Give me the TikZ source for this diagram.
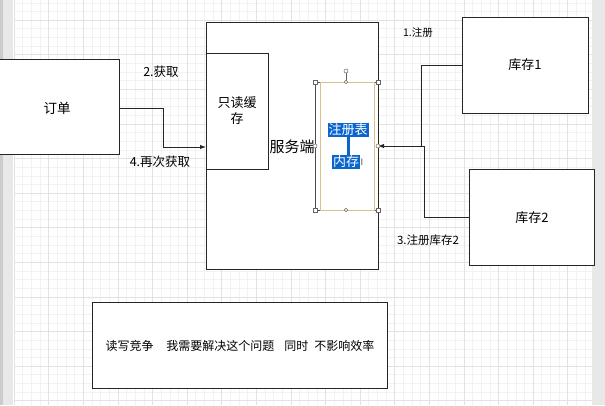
\documentclass[tikz,border=0pt]{standalone}
\usepackage{fontspec}
\setmainfont{Noto Sans CJK SC}
\usetikzlibrary{arrows.meta}
\definecolor{minorgrid}{HTML}{F2F2F2}
\definecolor{majorgrid}{HTML}{E2E2E2}
\definecolor{strip}{HTML}{E8E8E8}
\definecolor{selblue}{HTML}{0A66CC}
\definecolor{selgold}{HTML}{D8C08A}
\tikzset{
  box/.style={draw=black!85, line width=0.9pt, fill=white},
  lbl/.style={inner sep=0pt, font=\fontsize{12}{14}\selectfont},
  conn/.style={draw=black!85, line width=0.9pt},
  arr/.style={conn, -{Latex[length=6pt,width=4.5pt]}},
  hl/.style={fill=selblue, text=white, inner sep=1pt, font=\fontsize{13}{15}\selectfont},
  handle/.style={circle, draw=black!60, fill=white, inner sep=0pt, minimum size=4pt, line width=0.5pt},
  sqhandle/.style={rectangle, draw=black!60, fill=white, inner sep=0pt, minimum size=4pt, line width=0.5pt}
}
\begin{document}
\begin{tikzpicture}[x=1pt,y=-1pt]
\useasboundingbox (0,0) rectangle (605,405);
\fill[white] (0,0) rectangle (605,405);
% grid
\foreach \i in {0,...,70} {
  \draw[minorgrid, line width=0.4pt] ({14+\i*8.65},0) -- ({14+\i*8.65},405);
}
\foreach \i in {-2,...,47} {
  \draw[minorgrid, line width=0.4pt] (14,{20+\i*8.65}) -- (592,{20+\i*8.65});
}
\foreach \i in {0,...,17} {
  \draw[majorgrid, line width=0.5pt] ({14+\i*34.6},0) -- ({14+\i*34.6},405);
}
\foreach \i in {-1,...,11} {
  \draw[majorgrid, line width=0.5pt] (14,{20+\i*34.6}) -- (592,{20+\i*34.6});
}
% side strips
\fill[strip] (0,0) rectangle (13,405);
\fill[black!20] (0,0) rectangle (3,405);
\fill[strip] (592,0) rectangle (605,405);

% boxes
\node[box, minimum width=125pt, minimum height=95pt, anchor=north west] (order) at (-6,59) {};
\node[lbl, font=\fontsize{13.5}{15}\selectfont] (ordert) at (57,108) {订单};
\node[box, minimum width=172pt, minimum height=247pt, anchor=north west] (server) at (206,22) {};
\node[box, minimum width=62pt, minimum height=116pt, anchor=north west] (cache) at (206,53) {};
\node[lbl, font=\fontsize{13}{16}\selectfont, align=center] (cachet) at (237,111) {只读缓\\存};
\node[lbl, font=\fontsize{15}{17}\selectfont] (servert) at (292,147) {服务端};

% selected registry box
\node[draw=black!70, line width=0.9pt, minimum width=63pt, minimum height=128pt, anchor=north west, inner sep=0pt] (reg) at (315,82) {};
\draw[selgold, line width=0.8pt] (320,82) rectangle (374,210);
\draw[black!85, line width=0.9pt] (378,82) -- (378,210);
\node[hl] (regt) at (348,130) {注册表};
\node[hl] (memt) at (346,162) {内存};
\draw[selblue, line width=3pt] (348,136) -- (348,155);
\node[inner sep=0pt, font=\fontsize{9}{10}\selectfont, text=black!70] (cursor) at (362,162) {I};
\node[handle] (rot) at (346,71) {};
\draw[black!60, line width=0.5pt] (rot) -- (346,82);
\node[sqhandle] (h1) at (315,82) {};
\node[sqhandle] (h2) at (378,82) {};
\node[sqhandle] (h3) at (315,210) {};
\node[sqhandle] (h4) at (378,210) {};
\node[handle, minimum size=3.5pt] (h5) at (346,82) {};
\node[handle, minimum size=3.5pt] (h6) at (346,210) {};
\node[handle] (h7) at (315,146) {};

% stock boxes
\node[box, minimum width=126pt, minimum height=96pt, anchor=north west] (s1) at (462,17) {};
\node[lbl, font=\fontsize{13}{15}\selectfont] (s1t) at (525,65) {库存1};
\node[box, minimum width=125pt, minimum height=96pt, anchor=north west] (s2) at (469,169) {};
\node[lbl, font=\fontsize{13}{15}\selectfont] (s2t) at (532,218) {库存2};

% bottom box
\node[box, minimum width=295pt, minimum height=86pt, anchor=north west] (note) at (92,302) {};
\node[lbl, font=\fontsize{12}{14}\selectfont] (notet) at (240,346) {读写竞争\hspace{13pt}我需要解决这个问题\hspace{10pt}同时\hspace{6pt}不影响效率};

% connectors
\node[handle, draw=none, fill=none] (h8) at (378,146) {};
\draw[arr] (119,108) -- (163,108) -- (163,147) -- (server.west |- 0,147);
\draw[arr] (s2.west |- 0,217) -- (424,217) -- (424,146) -- (h8.center);
\draw[conn] (s1.west |- 0,65) -- (421,65) -- (421,146);
\node[handle] (h8v) at (378,146) {};

% labels
\node[lbl, font=\fontsize{12.5}{14}\selectfont] (l2) at (161,72) {2.获取};
\node[lbl, font=\fontsize{12.5}{14}\selectfont] (l4) at (160,162) {4.再次获取};
\node[lbl, font=\fontsize{10.5}{12}\selectfont] (l1) at (418,33) {1.注册};
\node[lbl, font=\fontsize{11.5}{13}\selectfont] (l3) at (428,240) {3.注册库存2};
\end{tikzpicture}
\end{document}
